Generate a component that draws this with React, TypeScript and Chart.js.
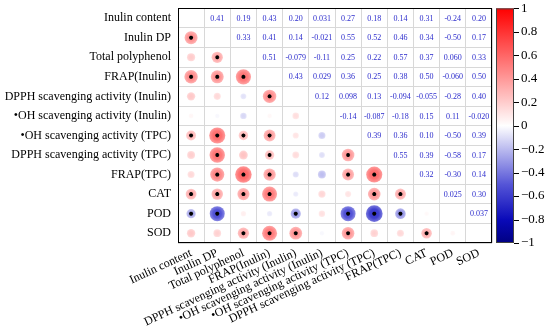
import React, { useEffect, useRef } from "react";
import { Chart, registerables } from "chart.js";

Chart.register(...registerables);

const variables = [
  "Inulin content",
  "Inulin DP",
  "Total polyphenol",
  "FRAP(Inulin)",
  "DPPH scavenging activity (Inulin)",
  "•OH scavenging activity (Inulin)",
  "•OH scavenging activity (TPC)",
  "DPPH scavenging activity (TPC)",
  "FRAP(TPC)",
  "CAT",
  "POD",
  "SOD",
];

// Upper-triangle correlations: each row lists r with the variables after it
const rInulinContent = [0.41, 0.19, 0.43, 0.20, 0.031, 0.27, 0.18, 0.14, 0.31, -0.24, 0.20];
const rInulinDP = [0.33, 0.41, 0.14, -0.021, 0.55, 0.52, 0.46, 0.34, -0.50, 0.17];
const rTotalPolyphenol = [0.51, -0.079, -0.11, 0.25, 0.22, 0.57, 0.37, 0.060, 0.33];
const rFrapInulin = [0.43, 0.029, 0.36, 0.25, 0.38, 0.50, -0.060, 0.50];
const rDpphInulin = [0.12, 0.098, 0.13, -0.094, -0.055, -0.28, 0.40];
const rOhInulin = [-0.14, -0.087, -0.18, 0.15, 0.11, -0.020];
const rOhTpc = [0.39, 0.36, 0.10, -0.50, 0.39];
const rDpphTpc = [0.55, 0.39, -0.58, 0.17];
const rFrapTpc = [0.32, -0.30, 0.14];
const rCat = [0.025, 0.30];
const rPod = [0.037];

const upperRows = [
  rInulinContent,
  rInulinDP,
  rTotalPolyphenol,
  rFrapInulin,
  rDpphInulin,
  rOhInulin,
  rOhTpc,
  rDpphTpc,
  rFrapTpc,
  rCat,
  rPod,
];

const colorbarTicks = [-1, -0.8, -0.6, -0.4, -0.2, 0, 0.2, 0.4, 0.6, 0.8, 1];
const SIG = 0.235;

const FONT = '"Liberation Serif", "Times New Roman", serif';

function corr(i: number, j: number): number {
  const a = Math.min(i, j);
  const b = Math.max(i, j);
  return upperRows[a][b - a - 1];
}

function lerp(a: number, b: number, t: number) {
  return a + (b - a) * t;
}

function corrRGB(v: number): number[] {
  if (v >= 0) {
    const t = Math.min(1, v);
    return [255, 255 * (1 - t), 255 * (1 - t)];
  }
  const t = Math.min(1, -v);
  const stops: [number, number[]][] = [
    [0, [255, 255, 255]],
    [0.5, [85, 85, 215]],
    [0.8, [10, 10, 185]],
    [1, [0, 0, 130]],
  ];
  for (let k = 1; k < stops.length; k++) {
    if (t <= stops[k][0]) {
      const [t0, c0] = stops[k - 1];
      const [t1, c1] = stops[k];
      const f = (t - t0) / (t1 - t0);
      return [lerp(c0[0], c1[0], f), lerp(c0[1], c1[1], f), lerp(c0[2], c1[2], f)];
    }
  }
  return [0, 0, 130];
}

function rgb(c: number[], a = 1) {
  return `rgba(${Math.round(c[0])},${Math.round(c[1])},${Math.round(c[2])},${a})`;
}

function mixWhite(c: number[], f: number) {
  return [lerp(c[0], 255, f), lerp(c[1], 255, f), lerp(c[2], 255, f)];
}

const zeroPad = (s: any) => {
  s.paddingTop = 0;
  s.paddingBottom = 0;
  s.paddingLeft = 0;
  s.paddingRight = 0;
};

const decorPlugin = {
  id: "corrDecor",
  afterDatasetsDraw(chart: any) {
    const { ctx, chartArea, scales } = chart;
    const xs = scales.x;
    const ys = scales.y;
    ctx.save();
    // upper triangle numbers
    ctx.font = `8px ${FONT}`;
    ctx.fillStyle = "#2b2bcc";
    ctx.textAlign = "center";
    ctx.textBaseline = "middle";
    for (let i = 0; i < variables.length; i++) {
      for (let j = i + 1; j < variables.length; j++) {
        const v = corr(i, j);
        ctx.fillText(v.toPrecision(2), xs.getPixelForValue(j), ys.getPixelForValue(i) + 0.5);
      }
    }
    // plot frame
    ctx.strokeStyle = "#000";
    ctx.lineWidth = 1;
    const l = Math.round(chartArea.left) + 0.5;
    const t = Math.round(chartArea.top) + 0.5;
    const r = Math.round(chartArea.right) - 0.5;
    const b = Math.round(chartArea.bottom) - 0.5;
    ctx.strokeRect(l, t, r - l, b - t);

    // colour bar
    const cb = scales.cb;
    const x0 = Math.round(chartArea.right) + 4;
    const w = 18;
    const yTop = cb.getPixelForValue(1);
    const yBot = cb.getPixelForValue(-1);
    const g = ctx.createLinearGradient(0, yTop, 0, yBot);
    for (let k = 0; k <= 40; k++) {
      const v = 1 - k / 20;
      g.addColorStop(k / 40, rgb(corrRGB(v)));
    }
    ctx.fillStyle = g;
    ctx.fillRect(x0, yTop, w, yBot - yTop);
    ctx.strokeStyle = "#444";
    ctx.strokeRect(x0 + 0.5, yTop + 0.5, w - 1, yBot - yTop - 1);
    ctx.strokeStyle = "#000";
    cb.ticks.forEach((tk: any) => {
      const y = Math.round(cb.getPixelForValue(tk.value)) + 0.5;
      ctx.beginPath();
      ctx.moveTo(x0 + w, y);
      ctx.lineTo(x0 + w + 5, y);
      ctx.stroke();
    });
    ctx.restore();
  },
};

export default function App() {
  const ref = useRef<HTMLCanvasElement | null>(null);

  useEffect(() => {
    if (!ref.current) return;
    const bubbles: any[] = [];
    const stars: any[] = [];
    for (let i = 0; i < variables.length; i++) {
      for (let j = 0; j < i; j++) {
        const v = corr(i, j);
        bubbles.push({ x: variables[j], y: variables[i], r: 2 + 11 * Math.abs(v), v, i, j });
        if (Math.abs(v) >= SIG) stars.push({ x: variables[j], y: variables[i] });
      }
    }

    const chart = new Chart(ref.current, {
      type: "bubble",
      data: {
        datasets: [
          {
            type: "scatter",
            label: "sig",
            data: stars,
            pointStyle: "star",
            radius: 2,
            borderColor: "#000",
            borderWidth: 1.2,
            backgroundColor: "#000",
          } as any,
          {
            label: "r",
            data: bubbles,
            borderWidth: 0,
            backgroundColor: (c: any) => {
              if (c.type !== "data" || !c.raw) return "rgba(0,0,0,0)";
              const raw = c.raw;
              const base = corrRGB(raw.v);
              const xs = c.chart.scales.x;
              const ys = c.chart.scales.y;
              if (!xs || !ys) return rgb(base);
              const px = xs.getPixelForValue(raw.j);
              const py = ys.getPixelForValue(raw.i);
              const rr = raw.r;
              if (!isFinite(px) || !isFinite(py) || !isFinite(rr)) return rgb(base);
              const core = corrRGB(Math.sign(raw.v) * Math.min(1, Math.abs(raw.v) * 1.1));
              const grad = c.chart.ctx.createRadialGradient(px, py, 0, px, py, Math.max(0.5, rr));
              grad.addColorStop(0, rgb(core));
              grad.addColorStop(0.55, rgb(base));
              grad.addColorStop(1, rgb(mixWhite(base, 0.3)));
              return grad;
            },
          } as any,
        ],
      },
      options: {
        animation: false,
        responsive: false,
        events: [],
        layout: { padding: { top: 8, left: 0, right: 0, bottom: 0 } },
        plugins: {
          legend: { display: false },
          tooltip: { enabled: false },
        },
        scales: {
          x: {
            type: "category",
            labels: variables,
            offset: true,
            position: "bottom",
            grid: { color: "#d8d8d8", offset: true, drawTicks: false },
            border: { display: false },
            ticks: {
              autoSkip: false,
              minRotation: 25,
              maxRotation: 25,
              padding: 3,
              color: "#000",
              font: { family: FONT, size: 12 },
            },
            afterFit: (s: any) => {
              s.height = 91;
              zeroPad(s);
            },
          },
          y: {
            type: "category",
            labels: variables,
            offset: true,
            position: "left",
            grid: { color: "#d8d8d8", offset: true, drawTicks: false },
            border: { display: false },
            ticks: {
              autoSkip: false,
              padding: 7,
              color: "#000",
              font: { family: FONT, size: 12 },
            },
            afterFit: (s: any) => {
              s.width = 178;
              zeroPad(s);
            },
          },
          cb: {
            type: "linear",
            position: "right",
            min: -1,
            max: 1,
            grid: { display: false, drawTicks: false },
            border: { display: false },
            afterBuildTicks: (s: any) => {
              s.ticks = colorbarTicks.map((value) => ({ value }));
            },
            ticks: {
              padding: 29,
              color: "#000",
              font: { family: FONT, size: 13 },
              callback: (v: any) => String(Math.round(Number(v) * 10) / 10).replace("-", "\u2212"),
            },
            afterFit: (s: any) => {
              s.width = 58;
              zeroPad(s);
            },
          },
        } as any,
      },
      plugins: [decorPlugin],
    });
    return () => chart.destroy();
  }, []);

  return (
    <div style={{ position: "absolute", left: 0, top: 0, width: 550, height: 334, background: "#fff" }}>
      <canvas ref={ref} width={550} height={334} />
    </div>
  );
}
